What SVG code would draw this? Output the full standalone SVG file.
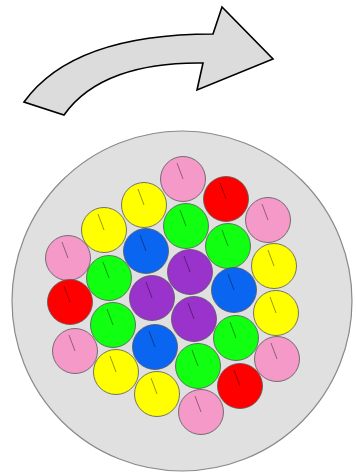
<svg xmlns="http://www.w3.org/2000/svg" width="356" height="472" viewBox="0 0 356 472">
<style>
.c{stroke:#555;stroke-width:0.8}
.t{stroke:#000;stroke-opacity:0.45;stroke-width:0.9}
.pk{fill:#f59ac8}.rd{fill:#ff0000}.yl{fill:#ffff00}.gn{fill:#11ff11}.bl{fill:#0a66f0}.pp{fill:#9933cc}
</style>
<defs>
<line id="tk" class="t" x1="0" y1="0" x2="-6" y2="-16"/>
</defs>
<rect width="356" height="472" fill="#fff"/>
<g id="arrow">
<path d="M24,102 C60,52 130,34 213,34 L222,7 L273,59 L197,90 L203,63 C140,62 90,78 64,115 Z" fill="#dcdcdc" stroke="#000" stroke-width="1.6" stroke-linejoin="miter"/>
</g>
<g id="sheath"><circle cx="182" cy="301" r="170" fill="#e0e0e0" stroke="#8a8a8a" stroke-width="1.2"/></g>
<g id="wires">
<g id="w1"><circle class="c pk" cx="183" cy="179" r="22.5"/><use href="#tk" x="183" y="179"/></g>
<g id="w2"><circle class="c rd" cx="226" cy="199" r="22.5"/><use href="#tk" x="226" y="199"/></g>
<g id="w3"><circle class="c pk" cx="268" cy="220" r="22.5"/><use href="#tk" x="268" y="220"/></g>
<g id="w4"><circle class="c yl" cx="144" cy="205" r="22.5"/><use href="#tk" x="144" y="205"/></g>
<g id="w5"><circle class="c yl" cx="104" cy="230" r="22.5"/><use href="#tk" x="104" y="230"/></g>
<g id="w6"><circle class="c pk" cx="68" cy="258" r="22.5"/><use href="#tk" x="68" y="258"/></g>
<g id="w7"><circle class="c gn" cx="186" cy="226" r="22.5"/><use href="#tk" x="186" y="226"/></g>
<g id="w8"><circle class="c gn" cx="228" cy="246" r="22.5"/><use href="#tk" x="228" y="246"/></g>
<g id="w9"><circle class="c yl" cx="274" cy="266" r="22.5"/><use href="#tk" x="274" y="266"/></g>
<g id="w10"><circle class="c bl" cx="146" cy="251" r="22.5"/><use href="#tk" x="146" y="251"/></g>
<g id="w11"><circle class="c pp" cx="190" cy="272" r="22.5"/><use href="#tk" x="190" y="272"/></g>
<g id="w12"><circle class="c bl" cx="234" cy="290" r="22.5"/><use href="#tk" x="234" y="290"/></g>
<g id="w13"><circle class="c gn" cx="109" cy="278" r="22.5"/><use href="#tk" x="109" y="278"/></g>
<g id="w14"><circle class="c rd" cx="70" cy="302" r="22.5"/><use href="#tk" x="70" y="302"/></g>
<g id="w15"><circle class="c pp" cx="152" cy="298" r="22.5"/><use href="#tk" x="152" y="298"/></g>
<g id="w16"><circle class="c yl" cx="276" cy="313" r="22.5"/><use href="#tk" x="276" y="313"/></g>
<g id="w17"><circle class="c pp" cx="194" cy="319" r="22.5"/><use href="#tk" x="194" y="319"/></g>
<g id="w18"><circle class="c gn" cx="113" cy="325" r="22.5"/><use href="#tk" x="113" y="325"/></g>
<g id="w19"><circle class="c gn" cx="236" cy="338" r="22.5"/><use href="#tk" x="236" y="338"/></g>
<g id="w20"><circle class="c pk" cx="75" cy="351" r="22.5"/><use href="#tk" x="75" y="351"/></g>
<g id="w21"><circle class="c bl" cx="155" cy="347" r="22.5"/><use href="#tk" x="155" y="347"/></g>
<g id="w22"><circle class="c pk" cx="277" cy="359" r="22.5"/><use href="#tk" x="277" y="359"/></g>
<g id="w23"><circle class="c gn" cx="198" cy="366" r="22.5"/><use href="#tk" x="198" y="366"/></g>
<g id="w24"><circle class="c yl" cx="116" cy="372" r="22.5"/><use href="#tk" x="116" y="372"/></g>
<g id="w25"><circle class="c rd" cx="240" cy="386" r="22.5"/><use href="#tk" x="240" y="386"/></g>
<g id="w26"><circle class="c yl" cx="157" cy="394" r="22.5"/><use href="#tk" x="157" y="394"/></g>
<g id="w27"><circle class="c pk" cx="201" cy="412" r="22.5"/><use href="#tk" x="201" y="412"/></g>
</g>
<g id="connectors"/>
</svg>
